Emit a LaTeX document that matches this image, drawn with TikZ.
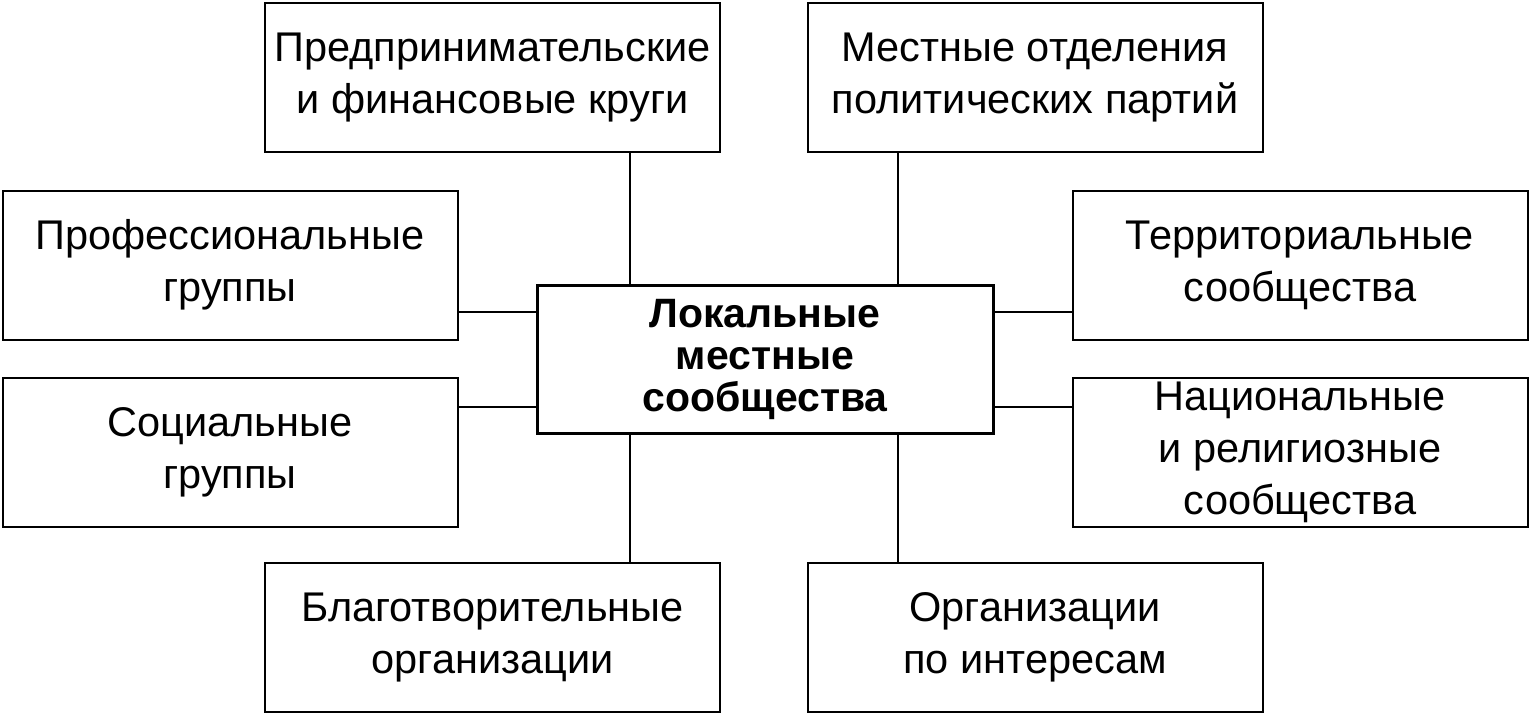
\documentclass[tikz,border=0pt]{standalone}
\usepackage{fontspec}
\setmainfont{Liberation Sans}
\begin{document}
\begin{tikzpicture}[x=1pt,y=-1pt,
  box/.style={draw,line width=2pt,minimum width=455pt,minimum height=149pt,align=center,font=\fontsize{41.5}{52}\selectfont,inner sep=0pt},
  ln/.style={line width=2pt}]
\useasboundingbox (0,0) rectangle (1530,717);
\node[box] (tl) at (492.5,77.5) {Предпринимательские\\и финансовые круги};
\node[box] (tr) at (1035,77.5) {Местные отделения\\политических партий};
\node[box] (l1) at (230,265) {Профессиональные\\группы};
\node[box] (l2) at (230,452) {Социальные\\группы};
\node[box] (r1) at (1300,265) {Территориальные\\сообщества};
\node[box] (r2) at (1300,452) {Национальные\\и религиозные\\сообщества};
\node[box] (bl) at (492.5,637.5) {Благотворительные\\организации};
\node[box] (br) at (1035,637.5) {Организации\\по интересам};
\node[box,line width=3pt,minimum width=456pt,minimum height=148pt,font=\bfseries\fontsize{41}{42}\selectfont] (c) at (765,359) {Локальные\\местные\\сообщества};
\coordinate (x1) at (630,0);
\coordinate (x2) at (898,0);
\coordinate (y1) at (0,312);
\coordinate (y2) at (0,407);
\draw[ln] (tl.south -| x1) -- (c.north -| x1);
\draw[ln] (tr.south -| x2) -- (c.north -| x2);
\draw[ln] (bl.north -| x1) -- (c.south -| x1);
\draw[ln] (br.north -| x2) -- (c.south -| x2);
\draw[ln] (l1.east |- y1) -- (c.west |- y1);
\draw[ln] (l2.east |- y2) -- (c.west |- y2);
\draw[ln] (r1.west |- y1) -- (c.east |- y1);
\draw[ln] (r2.west |- y2) -- (c.east |- y2);
\end{tikzpicture}
\end{document}
